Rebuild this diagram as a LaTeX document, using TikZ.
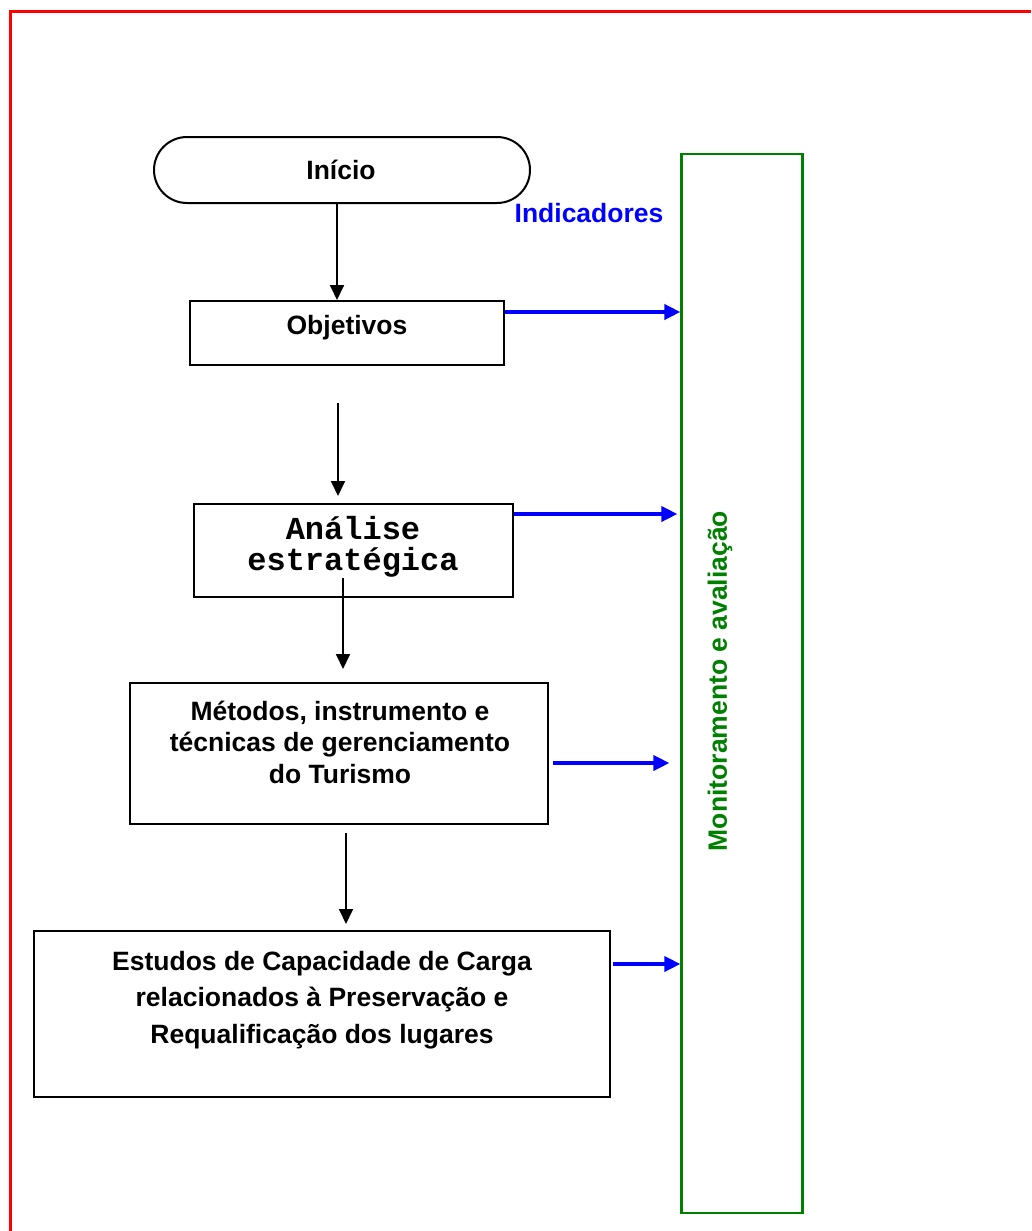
\documentclass[tikz,border=0pt]{standalone}
\usepackage{fontspec}
\setmainfont{Liberation Sans}
\newfontfamily\codefont{Liberation Mono}
\usetikzlibrary{arrows.meta}

\begin{document}
\begin{tikzpicture}[x=1pt,y=1pt,yscale=-1,xscale=1,
		box/.style={draw, line width=2pt, inner sep=0pt},
		flow/.style={line width=1.8pt, -{Triangle[length=15pt,width=14pt]}},
		feed/.style={draw=blue, line width=3.6pt, -{Triangle[length=16pt,width=15pt]}},
		lbl/.style={font=\bfseries\fontsize{26.5}{36.5}\selectfont, align=center, inner sep=0pt}]
			\useasboundingbox (0,0) rectangle (1031,1231);
			
			%Frame
			\draw [red, line width=3pt] (10,1231) -- (10,12) -- (1031,12) ;
			
			%Shape: Terminal [id:inicio]
			\node [box, rounded corners=33pt, minimum width=376pt, minimum height=66pt] (inicio) at (342,170) {};
			%Shape: Rectangle [id:objetivos]
			\node [box, minimum width=314pt, minimum height=64pt] (objetivos) at (347,333) {};
			%Shape: Rectangle [id:analise]
			\node [box, minimum width=319pt, minimum height=93pt] (analise) at (353.5,550.5) {};
			%Shape: Rectangle [id:metodos]
			\node [box, minimum width=418pt, minimum height=141pt] (metodos) at (339,753.5) {};
			%Shape: Rectangle [id:estudos]
			\node [box, minimum width=576pt, minimum height=166pt] (estudos) at (322,1014) {};
			%Shape: Rectangle [id:monitor]
			\node [box, draw={rgb,255:red,0;green,128;blue,0}, line width=2.2pt, minimum width=121pt, minimum height=1059pt] (monitor) at (742,683.5) {};
			
			%Straight Lines
			\draw [flow] (inicio.south -| 337,0) -- (objetivos.north -| 337,0) ;
			\draw [flow, shorten <=37pt, shorten >=7pt] (objetivos.south -| 338,0) -- (analise.north -| 338,0) ;
			\draw [flow, shorten <=-20pt, shorten >=13pt] (analise.south -| 343,0) -- (metodos.north -| 343,0) ;
			\draw [flow, shorten <=8pt, shorten >=6pt] (metodos.south -| 346,0) -- (estudos.north -| 346,0) ;
			
			%Straight Lines
			\draw [feed] (objetivos.east |- 0,312) -- (monitor.west |- 0,312) ;
			\draw [feed, shorten >=3pt] (analise.east |- 0,514) -- (monitor.west |- 0,514) ;
			\draw [feed, shorten <=4pt, shorten >=11pt] (metodos.east |- 0,763) -- (monitor.west |- 0,763) ;
			\draw [feed, shorten <=2pt] (estudos.east |- 0,964) -- (monitor.west |- 0,964) ;
			
			% Text Node
			\node [lbl] (inicio text) at (341,170) {Início};
			% Text Node
			\node [lbl] (objetivos text) at (347,328) {Objetivos};
			% Text Node
			\node [lbl, font=\codefont\bfseries\fontsize{32}{31}\selectfont] (analise text) at (353,547) {Análise\\estratégica};
			% Text Node
			\node [lbl, font=\bfseries\fontsize{26.5}{31.5}\selectfont] (metodos text) at (340,742) {Métodos, instrumento e\\técnicas de gerenciamento\\do Turismo};
			% Text Node
			\node [lbl] (estudos text) at (322,1000) {Estudos de Capacidade de Carga\\relacionados à Preservação e\\Requalificação dos lugares};
			% Text Node
			\node [lbl, text=blue] (indicadores) at (589,213) {Indicadores};
			% Text Node
			\node [lbl, text={rgb,255:red,0;green,128;blue,0}, rotate=90] (monitor text) at (720,681) {Monitoramento e avaliação};
			
		\end{tikzpicture}
\end{document}
